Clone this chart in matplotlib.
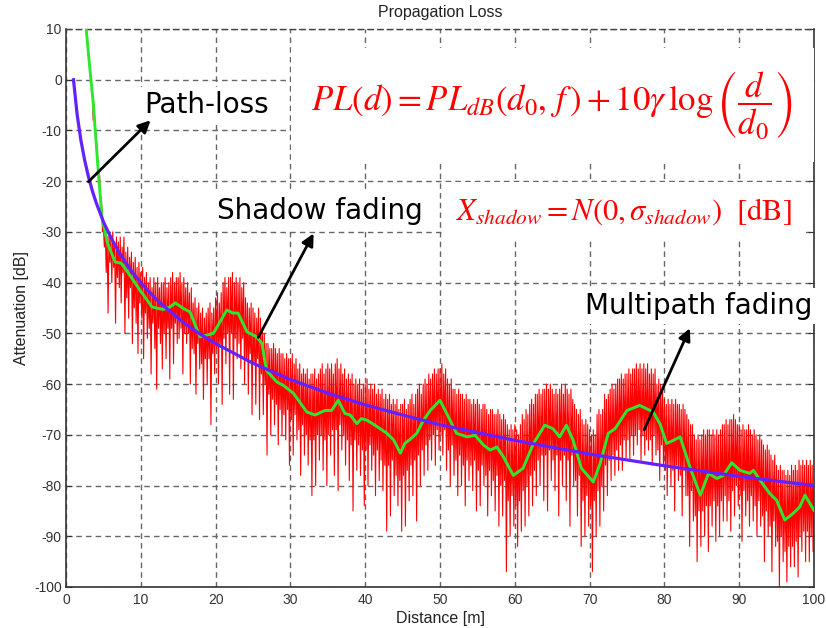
import numpy as np
import matplotlib
matplotlib.use("Agg")
import matplotlib.pyplot as plt

plt.rcParams["mathtext.fontset"] = "stix"
plt.rcParams["font.family"] = ["Liberation Sans", "DejaVu Sans"]
plt.rcParams["axes.unicode_minus"] = False

# Path loss (deterministic distance decay)
pl_d = [1, 1.5, 2, 2.5, 3, 3.5, 4, 5, 6, 7, 8, 9, 10, 12, 14, 16, 18, 20,
        25, 30, 35, 40, 45, 50, 60, 70, 80, 90, 100]
pl_db = [0.0, -7.0, -12.0, -15.9, -19.1, -21.8, -24.1, -28.0, -31.1, -33.8,
         -36.1, -38.2, -40.0, -43.2, -45.8, -48.2, -50.2, -52.0, -55.9, -59.1,
         -61.8, -64.1, -66.1, -68.0, -71.1, -73.8, -76.1, -78.2, -80.0]

# Path loss + shadow fading
sh_d = [2.7, 3.2, 3.65, 4.3, 4.8, 5.5, 6.55, 7.4, 8.2, 9.9, 11.5, 12.1, 13.0,
        13.9, 14.6, 15.7, 16.6, 17.9, 19.7, 21.5, 22.3, 23.0, 24.2, 25.5, 26.2,
        26.8, 28.2, 29.0, 30.4, 32.2, 33.3, 34.6, 35.5, 36.4, 37.3, 38.0, 38.9,
        39.5, 40.2, 41.3, 42.9, 43.8, 44.7, 45.3, 46.0, 46.9, 47.8, 48.7, 50.0,
        50.9, 52.2, 53.6, 54.7, 55.8, 56.7, 57.6, 58.5, 59.8, 61.1, 62.5, 64.0,
        65.1, 66.0, 66.9, 67.8, 68.9, 70.5, 71.4, 72.5, 73.4, 75.0, 76.7, 78.5,
        79.4, 80.3, 81.2, 82.1, 83.4, 84.8, 85.9, 87.0, 87.9, 89.0, 90.1, 91.4,
        91.9, 92.8, 94.1, 95.0, 96.1, 97.2, 98.1, 98.8, 100.0]
sh_db = [10.0, 2.0, -4.7, -17.8, -27.0, -32.0, -35.9, -36.2, -37.8, -41.5,
         -44.8, -45.0, -45.3, -44.8, -44.0, -45.1, -45.8, -50.7, -50.0, -45.4,
         -46.0, -46.0, -49.7, -50.7, -52.0, -57.3, -59.6, -60.2, -61.8, -65.5,
         -66.1, -65.2, -65.2, -63.2, -65.8, -66.1, -67.8, -66.8, -67.1, -68.1,
         -69.7, -71.0, -73.6, -71.7, -70.9, -69.7, -67.1, -65.2, -63.2, -65.8,
         -69.7, -70.4, -70.1, -72.0, -73.0, -72.4, -74.4, -78.0, -76.6, -71.7,
         -68.1, -68.8, -70.4, -68.1, -71.1, -76.6, -79.3, -75.7, -69.7, -68.8,
         -65.2, -64.2, -65.5, -67.8, -71.7, -71.1, -70.4, -76.3, -81.9, -77.6,
         -78.6, -78.0, -75.5, -77.0, -77.6, -77.0, -79.0, -81.6, -82.9, -86.8,
         -85.5, -84.2, -81.9, -84.9]

# Received level with multipath fading, one sample every 0.125 m from 2.75 m
mp_start = 2.75
mp_step = 0.125
mp_db = [
    10, 7,
    5, 3, 1, -1, -1, -8, -5, -9,
    -11, -13, -16, -18, -19, -23, -24, -30,
    -29, -33, -30, -38, -31, -46, -30, -36,
    -31, -40, -30, -37, -32, -48, -31, -39,
    -32, -41, -31, -44, -33, -38, -31, -50,
    -34, -43, -33, -47, -35, -41, -34, -52,
    -36, -45, -35, -48, -37, -54, -36, -44,
    -38, -47, -37, -55, -39, -46, -38, -51,
    -40, -49, -39, -58, -41, -48, -39, -53,
    -40, -61, -39, -49, -41, -52, -40, -57,
    -40, -50, -39, -55, -41, -49, -40, -59,
    -39, -49, -38, -56, -40, -48, -39, -52,
    -39, -51, -38, -49, -40, -58, -39, -50,
    -41, -52, -40, -50, -42, -60, -41, -53,
    -44, -54, -43, -62, -45, -52, -44, -57,
    -46, -56, -45, -63, -47, -55, -46, -60,
    -45, -55, -44, -68, -46, -54, -45, -58,
    -43, -53, -42, -60, -44, -52, -42, -64,
    -40, -51, -39, -56, -41, -50, -39, -62,
    -39, -50, -38, -63, -40, -51, -39, -55,
    -40, -52, -39, -57, -41, -51, -40, -60,
    -43, -55, -44, -62, -45, -54, -44, -66,
    -45, -56, -46, -64, -47, -55, -45, -67,
    -47, -58, -49, -66, -50, -60, -52, -74,
    -52, -62, -53, -70, -53, -63, -52, -68,
    -53, -64, -54, -72, -53, -65, -54, -70,
    -54, -66, -55, -71, -54, -65, -55, -76,
    -55, -67, -54, -74, -56, -66, -55, -71,
    -57, -69, -56, -78, -58, -68, -57, -74,
    -58, -70, -57, -76, -59, -71, -58, -82,
    -58, -71, -57, -80, -59, -70, -58, -75,
    -57, -70, -56, -77, -58, -71, -57, -80,
    -56, -70, -57, -74, -56, -69, -58, -78,
    -56, -69, -55, -81, -57, -68, -56, -73,
    -58, -70, -57, -76, -59, -71, -58, -79,
    -59, -72, -58, -85, -60, -71, -59, -77,
    -60, -72, -59, -78, -61, -73, -60, -84,
    -60, -73, -59, -80, -61, -72, -60, -77,
    -61, -74, -60, -82, -62, -73, -61, -79,
    -62, -75, -61, -81, -63, -76, -62, -89,
    -63, -76, -62, -86, -64, -75, -63, -82,
    -64, -78, -63, -84, -65, -79, -64, -89,
    -64, -78, -63, -88, -65, -77, -64, -83,
    -63, -76, -62, -82, -64, -75, -62, -87,
    -61, -74, -60, -80, -62, -73, -60, -78,
    -59, -72, -60, -77, -58, -71, -59, -75,
    -58, -70, -57, -76, -58, -69, -57, -73,
    -57, -70, -56, -74, -58, -69, -57, -77,
    -59, -73, -60, -80, -59, -72, -61, -78,
    -61, -75, -62, -82, -61, -74, -62, -80,
    -62, -76, -63, -84, -62, -75, -63, -79,
    -63, -76, -64, -81, -63, -75, -64, -85,
    -63, -77, -64, -84, -65, -76, -64, -80,
    -64, -78, -65, -86, -66, -77, -65, -82,
    -65, -79, -66, -85, -66, -78, -65, -88,
    -66, -80, -67, -86, -66, -79, -67, -97,
    -68, -83, -69, -90, -68, -82, -69, -88,
    -68, -84, -69, -92, -70, -83, -68, -89,
    -66, -81, -67, -88, -65, -80, -66, -86,
    -64, -78, -63, -84, -64, -77, -62, -82,
    -62, -75, -61, -80, -62, -74, -61, -83,
    -61, -74, -60, -85, -61, -73, -60, -79,
    -61, -75, -62, -81, -61, -74, -62, -86,
    -61, -75, -60, -80, -62, -74, -60, -83,
    -61, -75, -62, -88, -61, -74, -63, -80,
    -64, -79, -65, -86, -66, -78, -65, -92,
    -67, -83, -68, -90, -67, -82, -68, -88,
    -69, -84, -70, -97, -69, -83, -70, -90,
    -66, -81, -65, -88, -66, -80, -65, -85,
    -62, -76, -63, -82, -62, -75, -61, -79,
    -60, -74, -61, -78, -60, -73, -59, -77,
    -59, -72, -58, -77, -59, -71, -58, -75,
    -58, -71, -57, -75, -58, -70, -57, -74,
    -57, -70, -56, -72, -57, -69, -56, -75,
    -57, -70, -56, -74, -57, -71, -56, -73,
    -58, -71, -57, -76, -58, -70, -57, -74,
    -60, -73, -59, -79, -60, -72, -61, -76,
    -63, -77, -64, -82, -63, -76, -64, -80,
    -63, -77, -64, -85, -63, -76, -64, -79,
    -64, -78, -65, -86, -64, -77, -65, -82,
    -66, -82, -67, -92, -68, -81, -68, -87,
    -70, -86, -71, -95, -70, -85, -71, -92,
    -70, -85, -69, -90, -70, -84, -69, -93,
    -69, -84, -70, -88, -69, -83, -70, -91,
    -69, -84, -70, -90, -69, -83, -68, -87,
    -68, -82, -67, -87, -68, -83, -67, -89,
    -67, -81, -66, -86, -67, -80, -68, -84,
    -68, -82, -69, -91, -68, -81, -69, -86,
    -69, -83, -68, -88, -69, -82, -70, -87,
    -69, -84, -70, -90, -71, -83, -70, -88,
    -71, -86, -72, -95, -73, -85, -72, -90,
    -73, -88, -74, -97, -75, -87, -74, -92,
    -76, -91, -77, -100, -76, -90, -77, -95,
    -77, -93, -78, -99, -77, -92, -78, -96,
    -76, -92, -77, -96, -76, -91, -77, -98,
    -75, -90, -76, -93, -75, -89, -76, -95,
    -75, -89, -76, -95, -75, -90, -76, -93,
    -80,
]
mp_d = mp_start + mp_step * np.arange(len(mp_db))

xticks = [0, 10, 20, 30, 40, 50, 60, 70, 80, 90, 100]
yticks = [10, 0, -10, -20, -30, -40, -50, -60, -70, -80, -90, -100]

W, H = 826, 628
fig = plt.figure(figsize=(W / 100, H / 100), dpi=100)
ax = fig.add_axes([66 / W, 1 - 587 / H, (814 - 66) / W, (587 - 29) / H])

ax.plot(mp_d, mp_db, color="#ff0000", lw=0.8, zorder=2)
ax.plot(sh_d, sh_db, color="#2ee62e", lw=2.1, zorder=3, solid_joinstyle="round")
ax.plot(pl_d, pl_db, color="#6420ff", lw=2.3, zorder=4, solid_joinstyle="round")

ax.set_xlim(0, 100)
ax.set_ylim(-100, 10)
ax.set_xticks(xticks)
ax.set_yticks(yticks)
ax.grid(True, color="#666666", linestyle=(0, (4, 3)), linewidth=1.0, zorder=1)
ax.set_axisbelow(True)
ax.tick_params(axis="x", labelsize=10, labelcolor="#333333", length=0, pad=4.5)
ax.tick_params(axis="y", labelsize=10, labelcolor="#333333", length=0, pad=3)
ax.tick_params(axis="y", which="both", right=True, direction="in",
               length=4, color="#333333")
for side in ("left", "bottom", "right"):
    ax.spines[side].set_color("#333333")
    ax.spines[side].set_linewidth(1.2)
ax.spines["top"].set_color("#444444")
ax.spines["top"].set_linestyle((0, (4, 3)))
ax.spines["top"].set_linewidth(1.0)

ax.set_title("Propagation Loss", fontsize=11.5, color="#222222", pad=8.5)
ax.set_xlabel("Distance [m]", fontsize=11.5, color="#222222", labelpad=3)
ax.set_ylabel("Attenuation [dB]", fontsize=11.5, color="#222222", labelpad=4)

white = dict(boxstyle="square,pad=0.15", facecolor="white", edgecolor="none")
lab_font = ["DejaVu Sans"]
ax.text(18.8, -5.0, "Path-loss", fontsize=20, family=lab_font, ha="center",
        va="center", bbox=white, zorder=6)
ax.text(34.0, -25.9, "Shadow fading", fontsize=20, family=lab_font, ha="center",
        va="center", bbox=white, zorder=6)
ax.text(84.6, -44.6, "Multipath fading", fontsize=20, family=lab_font,
        ha="center", va="center", bbox=white, zorder=6)

ax.text(65.0, -5.0,
        r"$PL(d) = PL_{dB}(d_0,\, f\,) + 10\gamma\,\log\left(\dfrac{d}{d_0}\right)$",
        fontsize=25, color="#ff0000", ha="center", va="center",
        bbox=dict(boxstyle="square,pad=0.6", facecolor="white", edgecolor="none"),
        zorder=6)
ax.text(74.6, -25.9, r"$X_{shadow} = N(0, \sigma_{shadow})\ \ \mathrm{[dB]}$",
        fontsize=22, color="#ff0000", ha="center", va="center",
        bbox=dict(boxstyle="square,pad=0.45", facecolor="white", edgecolor="none"),
        zorder=6)

arrow = dict(arrowstyle="-|>", color="black", lw=2.0, mutation_scale=18,
             shrinkA=0, shrinkB=0)
ax.annotate("", xy=(11.3, -8.0), xytext=(3.0, -20.1), arrowprops=arrow, zorder=7)
ax.annotate("", xy=(33.1, -30.3), xytext=(25.7, -50.8), arrowprops=arrow, zorder=7)
ax.annotate("", xy=(83.4, -49.0), xytext=(77.3, -69.0), arrowprops=arrow, zorder=7)

fig.savefig("out.png", dpi=100)
